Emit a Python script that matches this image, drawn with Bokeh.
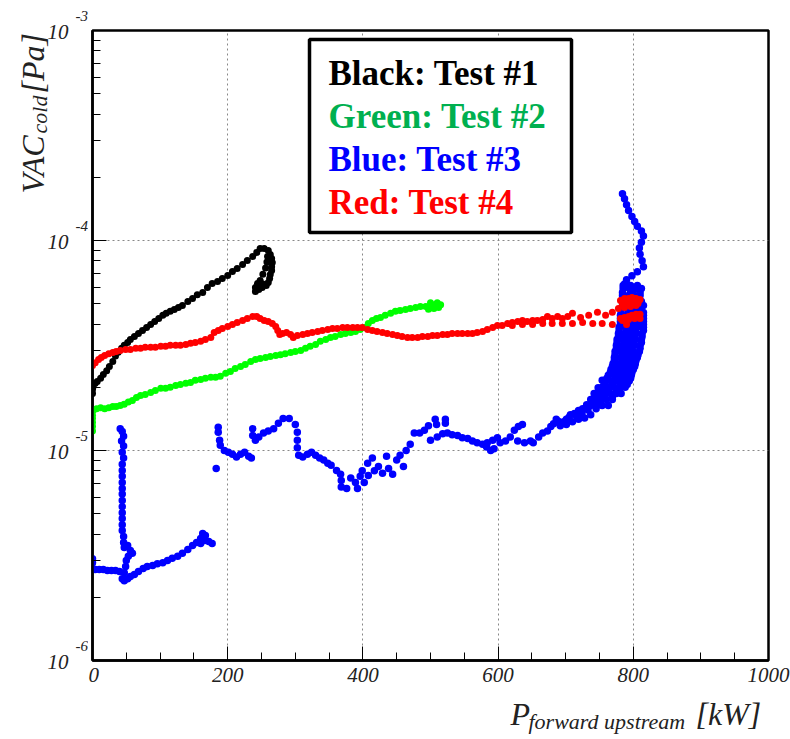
import math
from bokeh.plotting import figure
from bokeh.layouts import row, column
from bokeh.models import Label, BoxAnnotation, FixedTicker, Range1d
from bokeh.embed import file_html
from bokeh.resources import INLINE

# ---------------- data (P forward upstream [kW], VAC cold [Pa]) ----------------
test1_black = [(0,1.87e-5),(0,1.95e-5),(0,2.05e-5),(1,2.02e-5),(4,2.09e-5),(7,2.13e-5),(12,2.21e-5),(16,2.30e-5),
    (21,2.40e-5),(25,2.51e-5),(30,2.65e-5),(34,2.82e-5),(38,2.94e-5),(43,3.07e-5),(47,3.17e-5),(52,3.27e-5),
    (56,3.38e-5),(62,3.49e-5),(68,3.61e-5),(74,3.73e-5),(80,3.85e-5),(86,3.98e-5),(92,4.11e-5),(98,4.25e-5),
    (104,4.40e-5),(109,4.50e-5),(115,4.60e-5),(121,4.69e-5),(127,4.80e-5),(133,4.90e-5),(141,5.12e-5),
    (148,5.29e-5),(155,5.52e-5),(163,5.66e-5),(170,5.97e-5),(177,6.24e-5),(185,6.38e-5),(192,6.59e-5),
    (200,6.81e-5),(207,7.12e-5),(214,7.36e-5),(222,7.68e-5),(229,8.03e-5),(237,8.39e-5),(243,8.77e-5),
    (248,9.16e-5),(254,9.16e-5),(260,8.96e-5),(263,8.58e-5),(265,8.21e-5),(266,7.85e-5),(265,7.50e-5),
    (265,7.20e-5),(263,6.89e-5),(262,6.59e-5),(260,6.31e-5),(257,6.11e-5),(251,5.97e-5),(246,5.84e-5),
    (241,5.72e-5),(241,5.97e-5),(244,6.24e-5),(248,6.45e-5),(252,6.9e-5),(256,7.4e-5),(258,7.9e-5),
    (259,8.4e-5),(252,6.2e-5),(246,6.1e-5)]

test2_green = [(0,1.24e-5),(0,1.30e-5),(0,1.36e-5),(0,1.42e-5),(0,1.47e-5),(1,1.55e-5),(6,1.58e-5),(12,1.60e-5),
    (18,1.58e-5),(24,1.60e-5),(30,1.62e-5),(35,1.62e-5),(41,1.64e-5),(47,1.66e-5),(53,1.70e-5),(59,1.73e-5),
    (65,1.79e-5),(71,1.83e-5),(78,1.85e-5),(86,1.89e-5),(93,1.93e-5),(101,1.98e-5),(108,1.98e-5),(115,2.00e-5),
    (123,2.04e-5),(130,2.06e-5),(138,2.09e-5),(145,2.11e-5),(152,2.16e-5),(160,2.18e-5),(167,2.21e-5),
    (175,2.23e-5),(182,2.23e-5),(189,2.26e-5),(197,2.33e-5),(204,2.38e-5),(211,2.46e-5),(219,2.51e-5),
    (226,2.57e-5),(234,2.65e-5),(241,2.71e-5),(248,2.74e-5),(256,2.77e-5),(263,2.80e-5),(271,2.83e-5),
    (278,2.86e-5),(285,2.89e-5),(293,2.93e-5),(300,2.96e-5),(308,2.99e-5),(315,3.07e-5),(322,3.14e-5),
    (330,3.20e-5),(337,3.31e-5),(345,3.38e-5),(352,3.45e-5),(359,3.49e-5),(367,3.57e-5),(374,3.61e-5),
    (382,3.65e-5),(389,3.69e-5),(396,3.77e-5),(402,3.85e-5),(408,4.02e-5),(414,4.16e-5),(420,4.25e-5),
    (426,4.30e-5),(433,4.40e-5),(441,4.50e-5),(448,4.60e-5),(455,4.64e-5),(463,4.69e-5),(470,4.74e-5),
    (478,4.80e-5),(485,4.85e-5),(493,4.85e-5),(500,4.90e-5),(507,4.95e-5),(515,4.95e-5),(497,4.70e-5),
    (505,4.75e-5),(512,4.80e-5),(500,5.05e-5),(510,5.05e-5)]

test3_blue = [(0,2.74e-6),(0,2.92e-6),(0,3.05e-6),(4,2.71e-6),(10,2.71e-6),(16,2.71e-6),(22,2.68e-6),(28,2.68e-6),
    (34,2.68e-6),(40,2.65e-6),
    (41,1.27e-5),(44,1.23e-5),(46,1.17e-5),(43,1.11e-5),(46,1.05e-5),(44,9.8e-6),(46,9.2e-6),(44,8.6e-6),
    (44,8.03e-6),(44,7.55e-6),(44,7.05e-6),(44,6.6e-6),(44,6.2e-6),(44,5.78e-6),(44,5.4e-6),(44,5.05e-6),
    (44,4.75e-6),(44,4.43e-6),(44,4.16e-6),(46,3.9e-6),(46,3.65e-6),(47,3.45e-6),(52,3.53e-6),(56,3.34e-6),
    (59,3.24e-6),(53,3.14e-6),(50,2.99e-6),(49,2.80e-6),(47,2.62e-6),(44,2.45e-6),(47,2.40e-6),(52,2.45e-6),
    (56,2.51e-6),(62,2.57e-6),(68,2.65e-6),(75,2.74e-6),(81,2.80e-6),(89,2.83e-6),(96,2.89e-6),(104,2.92e-6),
    (111,2.99e-6),(118,3.07e-6),(126,3.14e-6),(133,3.24e-6),(141,3.38e-6),(148,3.53e-6),(154,3.65e-6),
    (160,3.81e-6),(163,4.02e-6),(167,3.94e-6),(166,3.73e-6),(172,3.69e-6),(177,3.61e-6),(160,3.61e-6),
    (186,1.29e-5),(186,1.22e-5),(188,1.12e-5),(189,1.06e-5),(183,8.2e-6),(195,1.00e-5),(201,9.8e-6),
    (207,9.6e-6),(213,9.3e-6),(219,9.6e-6),(225,9.8e-6),(231,9.4e-6),(235,9.2e-6),(237,1.18e-5),(237,1.27e-5),
    (241,1.12e-5),(246,1.16e-5),(253,1.21e-5),(260,1.24e-5),(268,1.27e-5),(275,1.35e-5),(282,1.42e-5),
    (291,1.42e-5),(300,1.33e-5),(303,1.22e-5),(303,1.12e-5),(303,1.03e-5),(305,9.5e-6),(311,9.3e-6),
    (318,9.6e-6),(324,9.8e-6),(330,9.5e-6),(336,9.2e-6),(342,9.0e-6),(348,8.7e-6),(353,8.5e-6),(361,8.03e-6),
    (367,7.7e-6),(368,7.2e-6),(368,6.7e-6),(376,6.6e-6),(382,7.4e-6),(389,7.05e-6),(392,6.6e-6),(396,7.55e-6),
    (399,8.0e-6),(402,7.05e-6),(407,8.7e-6),(408,7.6e-6),(414,9.2e-6),(417,8.0e-6),(423,8.4e-6),(429,7.8e-6),
    (435,9.4e-6),(438,8.2e-6),(444,7.7e-6),(450,9.0e-6),(455,9.5e-6),(460,8.4e-6),(464,1.00e-5),(470,1.07e-5),
    (476,1.21e-5),(484,1.21e-5),(491,1.25e-5),(497,1.31e-5),(500,1.12e-5),(507,1.41e-5),(509,1.33e-5),
    (522,1.41e-5),(522,1.35e-5),(510,1.16e-5),(518,1.20e-5),(525,1.21e-5),(532,1.19e-5),(540,1.18e-5),
    (547,1.15e-5),(555,1.14e-5),(562,1.11e-5),(569,1.09e-5),(577,1.07e-5),(583,1.04e-5),(589,1.00e-5),
    (594,1.02e-5),(584,1.09e-5),(592,1.12e-5),(599,1.15e-5),(603,1.09e-5),(611,1.11e-5),(618,1.16e-5),
    (624,1.25e-5),(630,1.30e-5),(636,1.33e-5),(629,1.11e-5),(639,1.09e-5),(648,1.11e-5),(652,1.09e-5),
    (660,1.16e-5),(666,1.21e-5),(673,1.24e-5),(678,1.30e-5),(682,1.34e-5),(686,1.41e-5),(689,1.38e-5),
    (695,1.35e-5),(701,1.41e-5),(707,1.48e-5),(713,1.50e-5),(719,1.55e-5),(725,1.58e-5),(731,1.65e-5),
    (737,1.75e-5),(742,1.87e-5),(748,1.99e-5),(754,2.16e-5),(692,1.31e-5),(701,1.33e-5),(710,1.37e-5),
    (719,1.41e-5),(728,1.43e-5),(737,1.48e-5),(745,1.58e-5),(751,1.65e-5),(757,1.80e-5),(763,1.93e-5),
    (769,2.06e-5),(697,1.37e-5),(705,1.44e-5),(716,1.46e-5),(724,1.50e-5),(733,1.56e-5),(741,1.66e-5),
    (785,6.11e-5),(796,6.11e-5),(806,6.11e-5),
    (784,5.65e-5),(796,5.65e-5),(810,5.65e-5),
    (785,5.30e-5),(797,5.30e-5),(809,5.30e-5),
    (784,4.90e-5),(796,4.90e-5),(807,4.90e-5),(815,4.90e-5),
    (782,4.54e-5),(793,4.54e-5),(804,4.54e-5),(815,4.54e-5),
    (781,4.25e-5),(793,4.25e-5),(804,4.25e-5),(815,4.25e-5),
    (781,3.98e-5),(793,3.98e-5),(804,3.98e-5),(815,3.98e-5),
    (779,3.73e-5),(791,3.73e-5),(803,3.73e-5),(815,3.73e-5),
    (778,3.49e-5),(790,3.49e-5),(802,3.49e-5),(813,3.49e-5),
    (776,3.27e-5),(788,3.27e-5),(800,3.27e-5),(812,3.27e-5),
    (775,3.07e-5),(787,3.07e-5),(798,3.07e-5),(810,3.07e-5),
    (773,2.86e-5),(785,2.86e-5),(797,2.86e-5),(807,2.86e-5),
    (772,2.68e-5),(784,2.68e-5),(796,2.68e-5),(804,2.68e-5),
    (769,2.51e-5),(781,2.51e-5),(793,2.51e-5),(802,2.51e-5),
    (766,2.35e-5),(778,2.35e-5),(790,2.35e-5),(798,2.35e-5),
    (761,2.21e-5),(773,2.21e-5),(785,2.21e-5),(796,2.21e-5),
    (757,2.06e-5),(769,2.06e-5),(781,2.06e-5),(791,2.06e-5),
    (751,1.93e-5),(763,1.93e-5),(775,1.93e-5),
    (745,1.80e-5),(757,1.80e-5),(769,1.80e-5),
    (740,1.69e-5),(751,1.69e-5),
    (785,5.91e-5),(794,5.91e-5),(803,5.91e-5),(812,5.91e-5),
    (784,5.47e-5),(793,5.47e-5),(802,5.47e-5),(810,5.47e-5),
    (785,5.12e-5),(794,5.12e-5),(803,5.12e-5),(812,5.12e-5),
    (782,4.74e-5),(791,4.74e-5),(800,4.74e-5),(809,4.74e-5),
    (781,4.40e-5),(790,4.40e-5),(798,4.40e-5),(807,4.40e-5),(815,4.40e-5),
    (781,4.11e-5),(790,4.11e-5),(798,4.11e-5),(807,4.11e-5),(815,4.11e-5),
    (779,3.86e-5),(788,3.86e-5),(797,3.86e-5),(806,3.86e-5),(815,3.86e-5),
    (778,3.61e-5),(787,3.61e-5),(796,3.61e-5),(804,3.61e-5),(813,3.61e-5),
    (776,3.38e-5),(785,3.38e-5),(794,3.38e-5),(803,3.38e-5),(812,3.38e-5),
    (775,3.17e-5),(784,3.17e-5),(793,3.17e-5),(802,3.17e-5),(810,3.17e-5),
    (773,2.96e-5),(782,2.96e-5),(791,2.96e-5),(800,2.96e-5),(809,2.96e-5),
    (772,2.77e-5),(781,2.77e-5),(790,2.77e-5),(798,2.77e-5),(806,2.77e-5),
    (770,2.59e-5),(779,2.59e-5),(788,2.59e-5),(797,2.59e-5),(803,2.59e-5),
    (767,2.43e-5),(776,2.43e-5),(785,2.43e-5),(794,2.43e-5),(800,2.43e-5),
    (763,2.28e-5),(772,2.28e-5),(781,2.28e-5),(790,2.28e-5),(797,2.28e-5),
    (759,2.14e-5),(767,2.14e-5),(776,2.14e-5),(785,2.14e-5),(794,2.14e-5),
    (754,2.00e-5),(763,2.00e-5),(772,2.00e-5),(781,2.00e-5),(788,2.00e-5),
    (748,1.87e-5),(757,1.87e-5),(766,1.87e-5),(775,1.87e-5),(782,1.87e-5),
    (742,1.75e-5),(751,1.75e-5),(760,1.75e-5),(769,1.75e-5),
    (737,1.64e-5),(745,1.64e-5),(754,1.64e-5),(763,1.64e-5),
    (784,1.67e-4),(787,1.58e-4),(790,1.48e-4),(793,1.39e-4),(798,1.30e-4),(802,1.23e-4),(806,1.17e-4),
    (812,1.11e-4),(815,1.05e-4),(812,9.8e-5),(809,9.2e-5),(810,8.6e-5),(813,8.0e-5),(815,7.5e-5),(806,7.1e-5),
    (798,6.8e-5),(790,6.5e-5),(787,6.2e-5)]

test4_red = [(0,2.54e-5),(4,2.62e-5),(9,2.71e-5),(13,2.77e-5),(18,2.83e-5),(24,2.89e-5),(30,2.93e-5),(35,2.96e-5),
    (41,2.99e-5),(49,3.03e-5),(56,3.03e-5),(64,3.07e-5),(71,3.07e-5),(78,3.10e-5),(86,3.10e-5),(93,3.10e-5),
    (101,3.14e-5),(108,3.14e-5),(115,3.17e-5),(123,3.17e-5),(130,3.17e-5),(138,3.20e-5),(145,3.24e-5),
    (152,3.27e-5),(160,3.31e-5),(167,3.38e-5),(175,3.45e-5),(180,3.65e-5),(186,3.73e-5),(192,3.81e-5),
    (200,3.89e-5),(207,3.98e-5),(214,4.07e-5),(222,4.16e-5),(229,4.25e-5),(237,4.35e-5),(243,4.35e-5),
    (248,4.25e-5),(254,4.16e-5),(260,4.11e-5),(266,4.02e-5),(271,3.89e-5),(274,3.73e-5),(277,3.57e-5),
    (281,3.61e-5),(287,3.65e-5),(293,3.57e-5),(297,3.45e-5),(303,3.53e-5),(311,3.57e-5),(318,3.61e-5),
    (325,3.65e-5),(333,3.69e-5),(340,3.73e-5),(348,3.77e-5),(355,3.81e-5),(362,3.81e-5),(370,3.85e-5),
    (377,3.85e-5),(385,3.85e-5),(392,3.85e-5),(399,3.85e-5),(407,3.77e-5),(414,3.73e-5),(421,3.69e-5),
    (429,3.65e-5),(436,3.61e-5),(444,3.57e-5),(451,3.53e-5),(458,3.49e-5),(466,3.45e-5),(473,3.45e-5),
    (481,3.45e-5),(488,3.49e-5),(496,3.49e-5),(503,3.53e-5),(510,3.53e-5),(518,3.57e-5),(525,3.57e-5),
    (532,3.61e-5),(540,3.61e-5),(547,3.61e-5),(555,3.61e-5),(562,3.61e-5),(569,3.65e-5),(577,3.69e-5),
    (584,3.77e-5),(592,3.85e-5),(599,3.94e-5),(606,3.94e-5),(614,4.02e-5),(621,4.07e-5),(629,4.11e-5),
    (636,4.16e-5),(643,4.11e-5),(651,4.16e-5),(658,4.16e-5),(666,4.20e-5),(673,4.35e-5),(680,4.25e-5),
    (688,4.35e-5),(695,4.25e-5),(703,4.35e-5),
    (621,3.94e-5),(636,3.98e-5),(651,3.98e-5),(666,4.02e-5),(680,4.02e-5),(695,4.02e-5),(710,4.02e-5),
    (725,4.07e-5),(740,4.02e-5),(754,4.02e-5),(769,3.98e-5),
    (710,4.50e-5),(722,4.30e-5),(734,4.40e-5),(747,4.55e-5),(759,4.40e-5),(769,4.55e-5),(778,4.74e-5),
    (784,4.95e-5),(790,5.12e-5),(796,5.23e-5),(802,5.29e-5),(808,5.18e-5),
    (781,5.18e-5),(787,5.30e-5),(793,5.30e-5),(798,5.36e-5),(804,5.30e-5),(810,5.24e-5),(784,5.07e-5),
    (790,5.01e-5),(796,5.07e-5),(802,5.07e-5),(807,5.01e-5),(787,4.80e-5),(796,4.85e-5),(804,4.90e-5),
    (781,4.25e-5),(787,4.30e-5),(793,4.35e-5),(798,4.40e-5),(804,4.45e-5),(810,4.45e-5),(784,4.16e-5),
    (793,4.20e-5),(802,4.25e-5),(810,4.25e-5),(790,3.98e-5)]

x_ticks = [0, 200, 400, 600, 800, 1000]
x_minor = [50, 100, 150, 250, 300, 350, 450, 500, 550, 650, 700, 750, 850, 900, 950]
y_ticks = [1e-6, 1e-5, 1e-4, 1e-3]
y_tick_base = "10"
y_exponents = ["-6", "-5", "-4", "-3"]
y_minor = [m * d for d in (1e-6, 1e-5, 1e-4) for m in range(2, 10)]
legend_lines = ["Black: Test #1", "Green: Test #2", "Blue: Test #3", "Red: Test #4"]
legend_colors = ["#000000", "#00b050", "#0000ff", "#ff0000"]

# ---------------- layout ----------------
H = 739
LEFT_W = 88          # strip: y tick labels + rotated y title
MAIN_H = 690
FL, FT, FW, FH = 92, 30, 676, 630
FONT = "Liberation Serif"
TXT = "#222222"
SHIFT = 0.3          # Label 'alphabetic' anchor correction (fraction of font size)

def Y(py):
    return 10 ** (-3 - (py - FT) * 3.0 / FH)
def X(px):
    return (px - FL) * 1000.0 / FW

p = figure(frame_width=FW, frame_height=FH, x_range=(0, 1000), y_range=(1e-6, 1e-3),
           y_axis_type="log", output_backend="svg", toolbar_location=None,
           min_border_left=FL - LEFT_W, min_border_right=22, min_border_top=FT,
           min_border_bottom=MAIN_H - FT - FH,
           background_fill_color="white", border_fill_color="white")
p.outline_line_color = "black"
p.outline_line_width = 2.5

p.xaxis.ticker = FixedTicker(ticks=x_ticks, minor_ticks=x_minor)
p.yaxis.ticker = FixedTicker(ticks=y_ticks, minor_ticks=y_minor)
for ax in (p.xaxis, p.yaxis):
    ax.axis_line_width = 2.5
    ax.axis_line_color = "black"
    ax.major_tick_in = 14
    ax.major_tick_out = 0
    ax.minor_tick_in = 8
    ax.minor_tick_out = 0
    ax.major_tick_line_color = "black"
    ax.minor_tick_line_color = "black"
p.xaxis.major_label_text_font = FONT
p.xaxis.major_label_text_font_style = "italic"
p.xaxis.major_label_text_font_size = "21px"
p.xaxis.major_label_text_color = TXT
p.xaxis.major_label_standoff = 7
p.yaxis.major_label_text_font_size = "1px"
p.yaxis.major_label_text_alpha = 0.0
p.yaxis.major_label_standoff = 0

for g in (p.xgrid, p.ygrid):
    g.grid_line_color = "#888888"
    g.grid_line_dash = "2 3"
    g.grid_line_width = 1

def draw(pts, color, size):
    xs = [a for a, b in pts]
    ys = [b for a, b in pts]
    p.scatter(xs, ys, size=size, color=color, line_color=None, marker="circle")

draw(test3_blue, "#0000ff", 7.5)
draw(test2_green, "#00ff00", 7)
draw(test1_black, "#000000", 7)
draw(test4_red, "#ff0000", 7)

# legend box
p.add_layout(BoxAnnotation(left=X(309), right=X(571), top=Y(39), bottom=Y(232),
                           fill_color="white", fill_alpha=1.0, line_color="black", line_alpha=1.0,
                           line_width=3.5))
for i, (t, c) in enumerate(zip(legend_lines, legend_colors)):
    p.add_layout(Label(x=X(328), y=Y(83 + 43 * i - SHIFT * 35), text=t, text_color=c, text_font=FONT,
                       text_font_style="bold", text_font_size="35px", text_baseline="alphabetic",
                       text_align="left"))

ital = dict(text_font=FONT, text_font_style="italic", text_color=TXT, text_baseline="alphabetic")

# ---- left strip: shares the log y scale (same vertical pixel mapping as the main plot) ----
left = figure(width=LEFT_W, height=H, x_range=Range1d(0, LEFT_W), y_range=Range1d(Y(H), Y(0)),
              y_axis_type="log", x_axis_location=None, y_axis_location=None, toolbar_location=None,
              output_backend="svg", min_border=0, outline_line_color=None,
              background_fill_color="white", border_fill_color="white")
left.grid.visible = False
for v, e in zip(y_ticks, y_exponents):
    py = FT + (-3 - math.log10(v)) * FH / 3.0
    left.add_layout(Label(x=68, y=Y(py + 7.5 - SHIFT * 21), text=y_tick_base, text_align="right",
                          text_font_size="21px", **ital))
    left.add_layout(Label(x=75, y=Y(py - 10.5 - SHIFT * 15), text=e, text_align="left",
                          text_font_size="15px", **ital))
left.add_layout(Label(x=42 - SHIFT * 32, y=Y(193), text="VAC", angle=math.pi / 2, text_align="left",
                      text_font_size="32px", **ital))
left.add_layout(Label(x=46 - SHIFT * 22, y=Y(133), text="cold", angle=math.pi / 2, text_align="left",
                      text_font_size="22px", **ital))
left.add_layout(Label(x=42 - SHIFT * 32, y=Y(93), text="[Pa]", angle=math.pi / 2, text_align="left",
                      text_font_size="32px", **ital))

# ---- bottom strip: x axis title (its frame is aligned by the column with the main frame) ----
BW, BH = 790 - LEFT_W, H - MAIN_H
bottom = figure(width=BW, height=BH, x_range=Range1d(FL, FL + FW), y_range=Range1d(H, MAIN_H),
                x_axis_location=None, y_axis_location=None, toolbar_location=None,
                output_backend="svg", min_border=0, outline_line_color=None,
                background_fill_color="white", border_fill_color="white")
bottom.grid.visible = False
bottom.add_layout(Label(x=510, y=723 - SHIFT * 32, text="P", text_align="left", text_font_size="32px", **ital))
bottom.add_layout(Label(x=528, y=728 - SHIFT * 22, text="forward upstream", text_align="left",
                        text_font_size="22px", **ital))
bottom.add_layout(Label(x=695, y=723 - SHIFT * 32, text="[kW]", text_align="left", text_font_size="32px", **ital))

layout = row(left, column(p, bottom, spacing=0), spacing=0)
open("out.html", "w").write(file_html(layout, INLINE))
